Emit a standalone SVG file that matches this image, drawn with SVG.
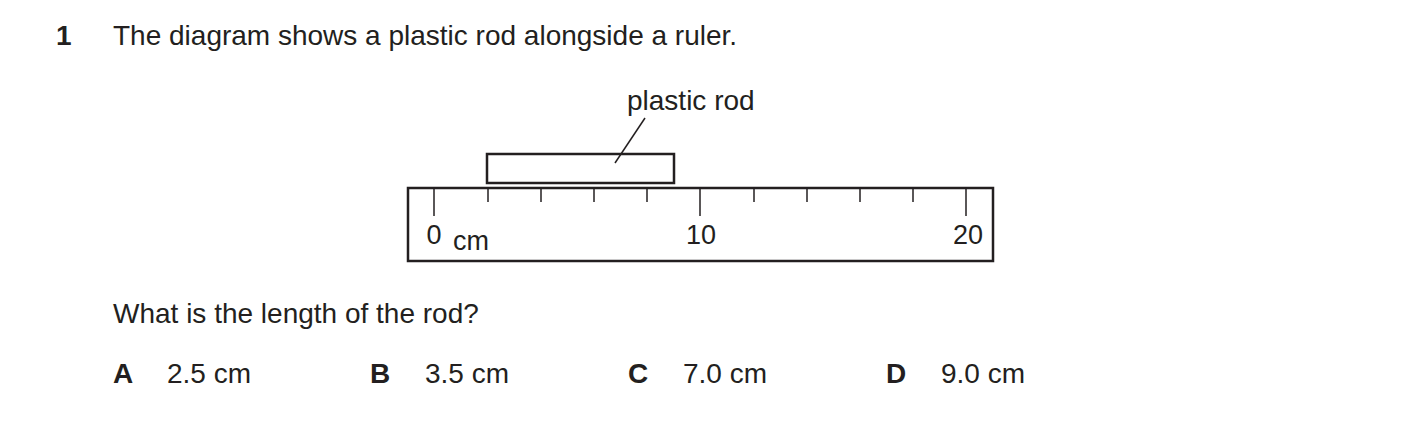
<svg xmlns="http://www.w3.org/2000/svg" width="1403" height="437" viewBox="0 0 1403 437">
<style>
text{font-family:"Liberation Sans",Arial,sans-serif;font-size:28px;fill:#231f20}
.b{font-weight:bold}
.r{font-size:27px}
.s{fill:none;stroke:#231f20;stroke-width:2.5}
.t{stroke:#231f20;stroke-width:1.5}
</style>
<rect width="1403" height="437" fill="#fff"/>
<text x="56" y="45" class="b">1</text>
<text x="113" y="45">The diagram shows a plastic rod alongside a ruler.</text>
<g id="rod"><rect class="s" x="487" y="154" width="187" height="29"/></g>
<g id="ruler">
<rect class="s" x="408" y="188" width="585" height="73"/>
<g class="t">
<line x1="434" y1="188" x2="434" y2="216"/><line x1="700" y1="188" x2="700" y2="216"/><line x1="966" y1="188" x2="966" y2="216"/>
<line x1="488" y1="188" x2="488" y2="202"/><line x1="541" y1="188" x2="541" y2="202"/><line x1="594" y1="188" x2="594" y2="202"/><line x1="647" y1="188" x2="647" y2="202"/>
<line x1="754" y1="188" x2="754" y2="202"/><line x1="807" y1="188" x2="807" y2="202"/><line x1="860" y1="188" x2="860" y2="202"/><line x1="913" y1="188" x2="913" y2="202"/>
</g>
<text class="r" x="434" y="244" text-anchor="middle">0</text>
<text class="r" x="453" y="250">cm</text>
<text class="r" x="701" y="244" text-anchor="middle">10</text>
<text class="r" x="968" y="244" text-anchor="middle">20</text>
</g>
<g id="connectors"><line class="t" x1="645" y1="118" x2="615" y2="163"/></g>
<text x="627" y="110">plastic rod</text>
<text x="113" y="323">What is the length of the rod?</text>
<text x="113" y="383" class="b">A</text><text x="167" y="383">2.5 cm</text>
<text x="370" y="383" class="b">B</text><text x="425" y="383">3.5 cm</text>
<text x="628" y="383" class="b">C</text><text x="683" y="383">7.0 cm</text>
<text x="886" y="383" class="b">D</text><text x="941" y="383">9.0 cm</text>
</svg>
